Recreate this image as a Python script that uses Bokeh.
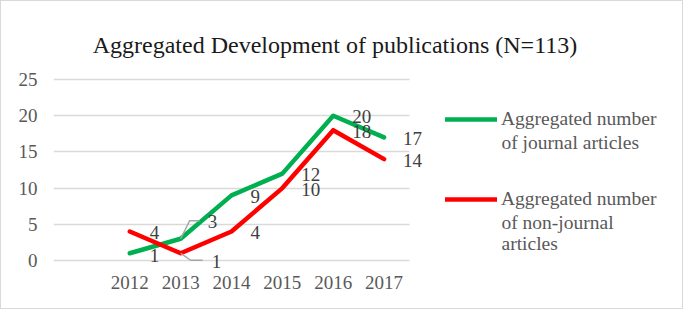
from bokeh.plotting import figure
from bokeh.models import (Range1d, FixedTicker, ColumnDataSource, LabelSet,
                          Legend, LegendItem, Grid, BoxAnnotation)
from bokeh.embed import file_html
from bokeh.resources import INLINE
from bokeh.core.properties import field, value

# ---------------- data ----------------
years = [2012, 2013, 2014, 2015, 2016, 2017]
year_labels = ["2012", "2013", "2014", "2015", "2016", "2017"]
journal = [1, 3, 9, 12, 20, 17]
non_journal = [4, 1, 4, 10, 18, 14]
y_ticks = [0, 5, 10, 15, 20, 25]
title_text = "Aggregated Development of publications (N=113)"
legend_journal = ["Aggregated number", "of journal articles"]
legend_non = ["Aggregated number", "of non-journal", "articles"]

# ---------------- styles / layout ----------------
FONT = "Liberation Serif"
GREEN = "#00b050"
RED = "#ff0000"
W, H = 683, 309                 # canvas (plus 1px border each side)
ML, MT, MB = 52, 8, 39          # borders around the (large) frame
FW, FH = W - ML, H - MT - MB    # frame size
PX_X = 356 / 7                  # pixels per category
PX_Y = 181 / 25                 # pixels per unit
X0 = 2010.5                     # left edge of plot area
X1 = X0 + FW / PX_X
XP = 2017.5                     # right edge of plot area (grid end)
Y0 = -11 / PX_Y                 # frame bottom lies 11px below the 0 line
Y1 = Y0 + FH / PX_Y

p = figure(width=W, height=H, output_backend="svg", toolbar_location=None,
           title=None,
           x_range=Range1d(X0, X1), y_range=Range1d(Y0, Y1),
           min_border_left=ML, min_border_right=0,
           min_border_top=MT, min_border_bottom=MB)
p.styles = {"border": "1px solid #d9d9d9"}
p.outline_line_color = None
p.background_fill_color = "white"
p.border_fill_color = "white"

p.xaxis.ticker = FixedTicker(ticks=years)
p.xaxis.major_label_overrides = {y: l for y, l in zip(years, year_labels)}
p.yaxis.ticker = FixedTicker(ticks=y_ticks)
for ax in (p.xaxis, p.yaxis):
    ax.axis_line_color = None
    ax.major_tick_line_color = None
    ax.minor_tick_line_color = None
    ax.major_tick_out = 0
    ax.major_tick_in = 0
    ax.minor_tick_out = 0
    ax.minor_tick_in = 0
    ax.major_label_text_font = FONT
    ax.major_label_text_font_size = "19px"
    ax.major_label_text_color = "#595959"
p.xaxis.major_label_standoff = 4
p.yaxis.major_label_standoff = 16
p.xgrid.grid_line_color = None
p.ygrid.ticker = FixedTicker(ticks=y_ticks)
p.ygrid.grid_line_color = "#d9d9d9"
p.ygrid.grid_line_width = 1.5
if "cross_bounds" in Grid.properties():
    p.ygrid.cross_bounds = (X0, XP)
else:
    p.add_layout(BoxAnnotation(left=XP, fill_color="white", fill_alpha=1,
                               line_color=None, level="underlay"))

gl = p.line(years, journal, line_color=GREEN, line_width=4.5,
            line_cap="round", line_join="round")
rl = p.line(years, non_journal, line_color=RED, line_width=4.5,
            line_cap="round", line_join="round")

# leader lines for the two 2013 labels (pixel offsets converted to data units)
lead_g = [(0, 0), (9, 18), (19, 18)]
lead_r = [(0, 0), (10, -7), (22, -7)]
i13 = years.index(2013)
xs = [[years[i13] + dx / PX_X for dx, dy in lead_g],
      [years[i13] + dx / PX_X for dx, dy in lead_r]]
ys = [[journal[i13] + dy / PX_Y for dx, dy in lead_g],
      [non_journal[i13] + dy / PX_Y for dx, dy in lead_r]]
p.multi_line(xs, ys, line_color="#a6a6a6", line_width=1.5)

# data labels
xo_g = [20, 27, 19, 19, 19, 19]
yo_g = [-2, 17, -1, -1, -1, -1]
xo_r = [20, 31, 19, 19, 19, 19]
yo_r = [-1, -8, -1, -1, -1, -1]
src = ColumnDataSource(dict(
    x=years + years,
    y=journal + non_journal,
    t=[str(v) for v in journal + non_journal],
    xo=xo_g + xo_r,
    yo=yo_g + yo_r,
))
p.add_layout(LabelSet(x="x", y="y", text="t", source=src,
                      x_offset=field("xo"), y_offset=field("yo"),
                      text_align="left", text_baseline="middle",
                      text_font=value(FONT), text_font_size="19px",
                      text_color="#404040"))

# title (screen units: from the frame's bottom-left corner)
tsrc = ColumnDataSource(dict(x=[281.5], y=[219], t=[title_text]))
p.add_layout(LabelSet(x="x", y="y", text="t", source=tsrc,
                      x_units="screen", y_units="screen",
                      text_align="center", text_baseline="alphabetic",
                      text_font=value(FONT), text_font_size="24px",
                      text_color="#1a1a1a"))

# legend (swatches + first line of each label)
legend = Legend(items=[LegendItem(label=legend_journal[0], renderers=[gl]),
                       LegendItem(label=legend_non[0], renderers=[rl])],
                location=(392, 61), orientation="vertical",
                glyph_width=52, glyph_height=22, label_height=22,
                label_standoff=4, spacing=58, padding=0, margin=0,
                border_line_color=None, background_fill_alpha=0,
                label_text_font=FONT, label_text_font_size="19.5px",
                label_text_color="#595959")
p.add_layout(legend)

# remaining legend lines
esrc = ColumnDataSource(dict(x=[448, 448, 448], y=[122.7, 42.7, 21.5],
                             t=[legend_journal[1], legend_non[1], legend_non[2]]))
p.add_layout(LabelSet(x="x", y="y", text="t", source=esrc,
                      x_units="screen", y_units="screen",
                      text_align="left", text_baseline="alphabetic",
                      text_font=value(FONT), text_font_size="19.5px",
                      text_color="#595959"))

open("out.html", "w").write(file_html(p, INLINE))
